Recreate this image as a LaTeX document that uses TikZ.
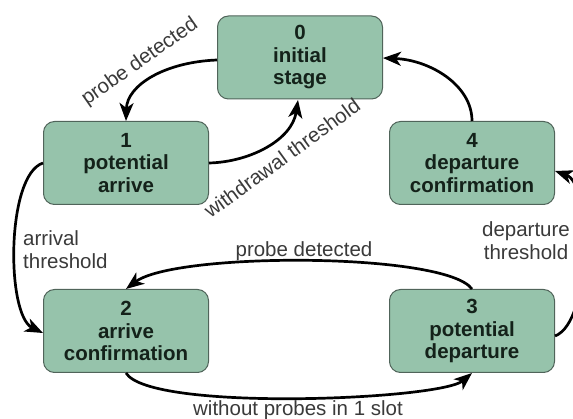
\documentclass[tikz,border=0pt]{standalone}
\usepackage{fontspec}
\setmainfont{Liberation Sans}
\usetikzlibrary{arrows.meta}
\definecolor{boxfill}{RGB}{150,195,171}
\definecolor{boxline}{RGB}{80,100,90}
\definecolor{boxtext}{RGB}{20,34,26}
\definecolor{lbl}{RGB}{58,58,58}
\begin{document}
\begin{tikzpicture}[x=1pt,y=-1pt,
  state/.style={draw=boxline, line width=1pt, fill=boxfill, rounded corners=11pt,
    minimum width=165pt, minimum height=83pt, align=center, text=boxtext,
    font=\fontsize{20.5}{22.5}\selectfont\bfseries, inner sep=0pt},
  conn/.style={line width=2.7pt, -{Stealth[length=18pt,width=14pt,inset=5pt]}},
  lab/.style={text=lbl, font=\fontsize{20.5}{23}\selectfont, inner sep=0pt}]
\useasboundingbox (0,0) rectangle (573,419);
\node[state] (s0) at (300,57.5) {0\\initial\\stage};
\node[state] (s1) at (126,163) {1\\potential\\arrive};
\node[state] (s4) at (472,163) {4\\departure\\confirmation};
\node[state] (s2) at (126,331) {2\\arrive\\confirmation};
\node[state] (s3) at (472,331) {3\\potential\\departure};
% 0 -> 1
\draw[conn] (s0.west |- 0,60) .. controls (165,62) and (127,85) .. (s1.north);
% 1 -> 0
\draw[conn] (s1.east) .. controls (250,162) and (292,140) .. (298,100);
% 4 -> 0
\draw[conn] (s4.north) .. controls (472,85) and (430,60) .. (s0.east |- 0,58);
% 3 -> 4
\draw[conn] (s3.east |- 0,336) .. controls (592,322) and (592,184) .. (s4.east |- 0,171);
% 1 -> 2
\draw[conn] (s1.west) .. controls (6,175) and (6,315) .. (s2.west |- 0,333);
% 3 -> 2
\draw[conn] (s3.north) .. controls (445,252) and (175,252) .. (s2.north);
% 2 -> 3
\draw[conn] (s2.south) .. controls (150,412) and (440,400) .. (s3.south);
% labels
\node[lab, rotate=35] (l01) at (140,62) {probe detected};
\node[lab, rotate=36] (l10) at (282,158) {withdrawal threshold};
\node[lab, align=left, anchor=west] (l12) at (23,250) {arrival\\threshold};
\node[lab, align=center] (l34) at (526,241) {departure\\threshold};
\node[lab] (l32) at (304,251) {probe detected};
\node[lab] (l23) at (298,410) {without probes in 1 slot};
\end{tikzpicture}
\end{document}
